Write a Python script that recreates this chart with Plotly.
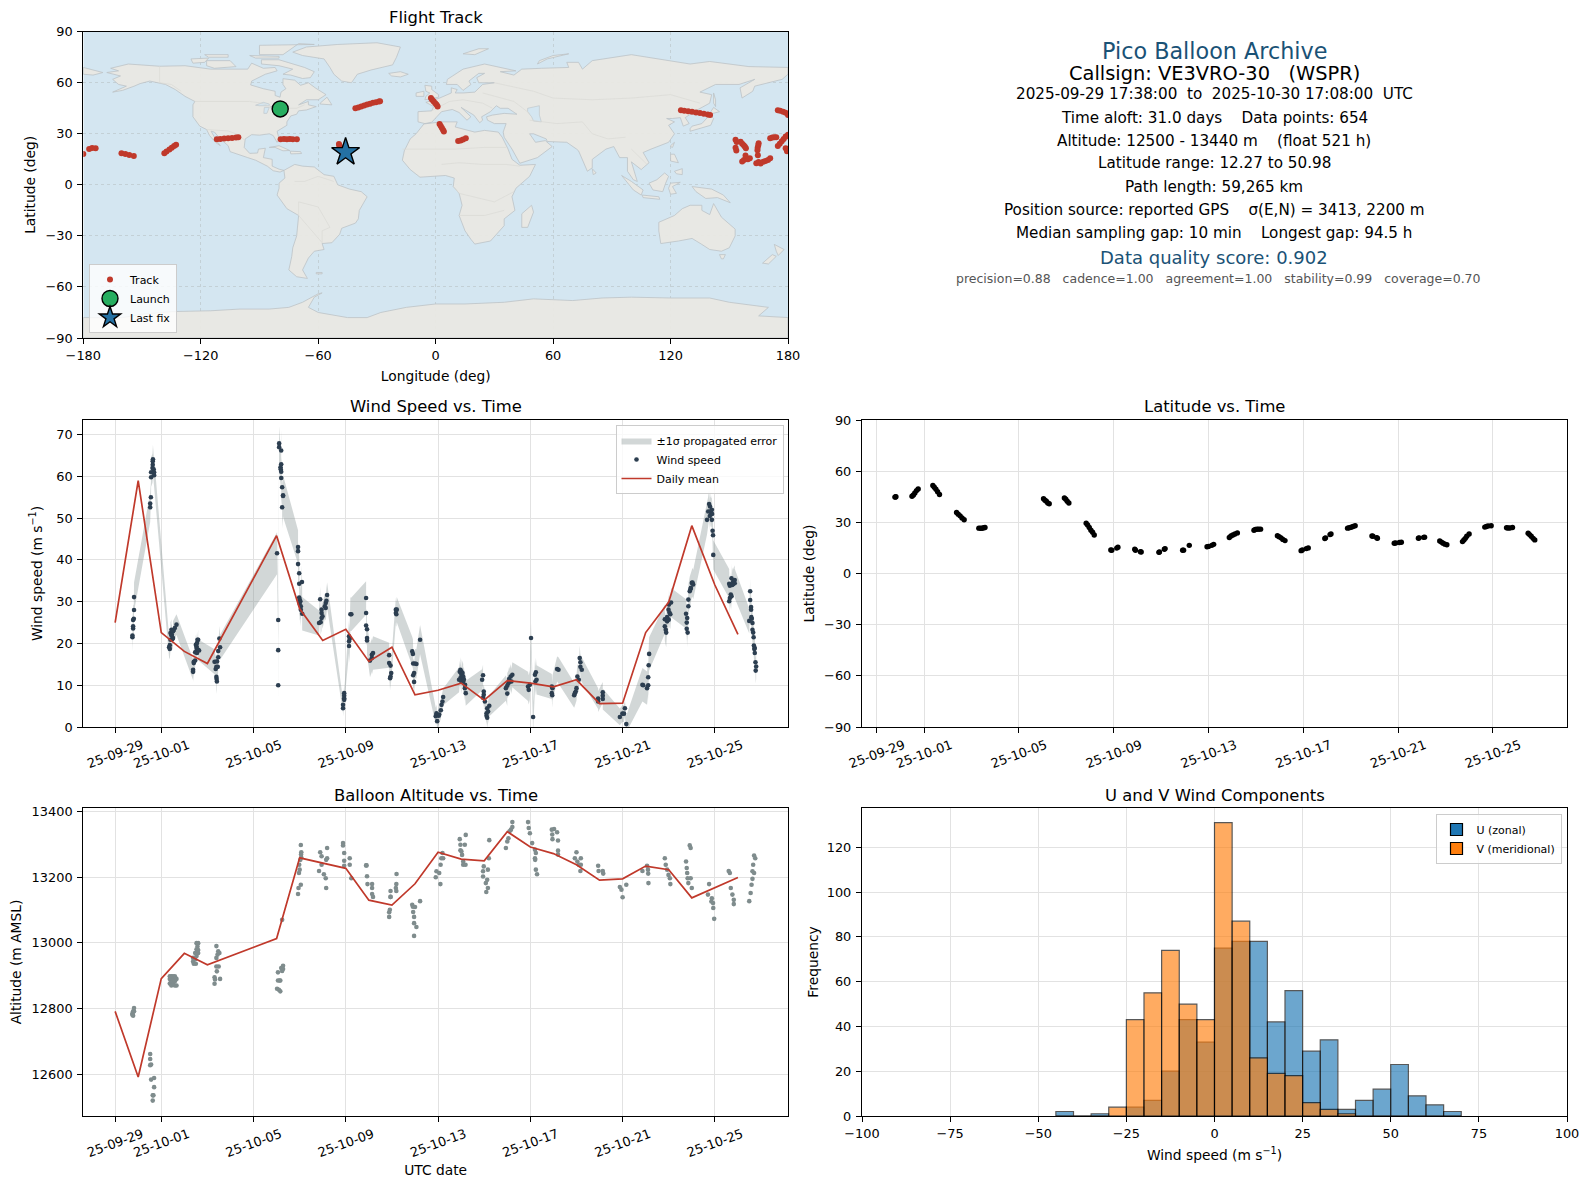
import numpy as np
import pandas as pd
import plotly.graph_objects as go

# ---- flight track (lon / lat in deg)
track_lon = [-41, -39.5, -38, -36.5, -35, -33.5, -32, -30.5, -29, -28.4,
             -2.4, -1.8, -1, -0.2, 0.5, 1,
             2, 2.6, 3.2, 3.8, 4.2,
             11.5, 12.8, 14, 15.4,
             125.3, 127, 129, 131, 133, 135, 137, 139, 140.2,
             174.8, 176, 177.5, 178.8, 180,
             153.2, 153.8, 153.2, 153.6, 155.8, 156.6, 157.4, 158, 158.5,
             165, 164.8, 164.5, 164.4, 156.6, 157.5, 158.8, 159.5, 160.5, 158.3,
             163.8, 165, 166, 167.4, 168.5, 169.8, 170.9, 164.6,
             170.9, 172, 173, 174,
             174.8, 175.8, 176.8, 177.8, 178.8, 180, 178.8, 179.5,
             -180, -177, -175.5, -173.7,
             -160.5, -158.5, -156.5, -154.2,
             -138.6, -137.5, -136, -134.8, -133.6, -132.6,
             -111.8, -110, -108, -106, -104, -102, -100.8,
             -79.2, -77.5, -76, -74.5, -73, -70.9,
             -49.4, -49.2, -49]
track_lat = [45, 45.5, 46, 46.6, 47.2, 47.7, 48.2, 48.6, 49, 49.1,
             51, 50, 49, 48, 47, 46,
             35.8, 34.6, 33.4, 32.2, 31.3,
             25.8, 26, 26.6, 27.4,
             43.8, 43.5, 43.2, 42.9, 42.5, 42.2, 41.8, 41.3, 41,
             43.8, 43.5, 43, 42.3, 41,
             26.5, 25.2, 21.8, 20.2, 25.4, 24.2, 23.2, 22.4, 21.5,
             24.5, 23.2, 21.8, 20.4, 13.7, 14.6, 15.4, 15, 15.6, 17.2,
             12.7, 13.4, 12.6, 13.6, 14, 14.6, 15.6, 17.4,
             27.4, 27.8, 28, 28,
             22.9, 24.2, 25.6, 27, 28.4, 29.4, 21.5, 19.8,
             18.2, 21, 21.6, 21.5,
             18.6, 18.2, 17.6, 17,
             18.6, 19.6, 20.8, 21.8, 22.8, 23.5,
             26.8, 27, 27.2, 27.4, 27.6, 27.8, 28,
             26.8, 26.9, 26.8, 26.9, 26.8, 26.8,
             24, 23.2, 22.4]
launch_lon, launch_lat = [-79.4], [44.6]
last_lon, last_lat = [-46], [19.2]

# ---- land outlines, each one [lon...], [lat...]
land_shapes = [
    # north america
    ([-168, -162, -166, -157, -141, -128, -115, -108, -96, -94, -88, -82, -81, -87, -94, -94.5, -88, -82, -82, -79.5, -79, -76.5, -78, -78, -72, -69, -65, -61.5, -56, -60, -66, -70, -65, -65, -61, -66, -70, -71, -74, -76, -76, -81, -80, -81, -83, -85, -90, -94, -97.3, -97.8, -95, -91, -90.5, -87, -88, -83.5, -83.5, -80, -77.5, -79.5, -83, -86, -92, -96, -105, -106, -110, -113, -114.7, -112, -110, -112.5, -115.5, -117, -120.5, -124, -124, -123, -128, -133, -138, -146, -151, -154, -160, -165, -158, -162, -165, -161, -168],
     [66, 67, 68.5, 71, 69.7, 70, 68, 68, 68, 71.5, 68.5, 69, 67, 65, 61, 58.7, 56.5, 55, 52.5, 51.5, 54.5, 56.5, 59, 62.4, 61.5, 58.5, 60, 57, 53, 50, 50, 47, 49, 47, 46, 44, 43.5, 41.5, 40.5, 37, 35, 31.5, 27, 25, 29, 30, 29.2, 29.5, 27, 22, 18.5, 18.7, 21, 21.5, 16, 15, 11, 9.2, 8.5, 7.5, 8.3, 11, 14.5, 16, 19.5, 23, 27, 31, 31.5, 26, 23, 25, 29, 32.5, 34.5, 40, 47, 49, 52, 56, 59, 61, 59.5, 58, 55.5, 54.5, 58, 59, 62, 64, 66]),
    # greenland
    ([-73, -66, -50, -30, -18, -20, -22, -33, -40, -43, -48, -52, -54, -57, -68, -73],
     [78, 81, 82.5, 83.5, 81, 75, 70.5, 67.5, 65, 60, 61, 65, 69, 74, 76, 78]),
    # arctic islands
    ([-80, -72, -67, -62, -64, -68, -74, -78, -73, -80, -89, -89, -80],
     [73.5, 71, 69, 66.5, 63, 62.5, 64.5, 65, 68, 70, 71, 73.5, 73.5]),
    ([-117, -105, -102, -113, -117, -117], [73, 73, 69.5, 68.5, 70, 73]),
    ([-125, -116, -118, -124, -125], [74, 74.5, 72, 71.5, 74]),
    ([-90, -78, -70, -62, -90, -90], [76.5, 76.5, 83, 82.5, 82, 76.5]),
    ([-95, -80, -80, -92, -95], [76, 75.5, 74.5, 74.5, 76]),
    ([-118, -106, -106, -116, -118], [76.5, 76.5, 75, 75, 76.5]),
    ([-59, -55.5, -53, -59, -59], [48, 51.5, 47, 47.5, 48]),
    # caribbean
    ([-85, -80, -74.5, -78, -82, -85], [22, 23, 20.2, 20, 22, 22]),
    ([-74.3, -69, -68.5, -74, -74.3], [19.8, 19.5, 18.4, 18.2, 19.8]),
    # south america
    ([-77.5, -72, -68, -62, -57, -52, -50, -44, -38, -35, -39, -39.5, -41, -48, -49, -53, -58, -57, -62, -65, -68, -65.5, -71, -75, -73.5, -73, -71, -70, -76, -81, -80, -80, -77, -77.5],
     [8.5, 12, 11, 10.5, 6, 5, 0, -2.5, -4, -7, -15, -20, -22.5, -25.5, -29, -34, -34.5, -38, -39, -43, -50, -55, -54, -50, -42, -37, -30, -18, -14, -6, -2, 1, 4, 8.5]),
    ([-61, -58, -58, -61, -61], [-51.5, -51.5, -52.3, -52.3, -51.5]),
    # africa
    ([-6, 3, 11, 10, 15, 20, 25, 32, 34, 37, 39, 43, 51, 48, 41, 39, 40.5, 35, 35, 32.5, 28, 20, 18, 15, 12, 13.5, 12, 9, 9.5, 5, -4, -8, -13, -17, -16, -13, -10, -6],
     [35.8, 37, 37, 34, 32.5, 31, 32, 31, 28, 21, 15, 11.5, 12, 5, -2, -7, -15, -20, -24, -27, -33, -34.8, -32, -27, -18, -12, -5, -1, 4, 5.5, 5, 4.5, 9, 14.5, 20, 27, 30, 35.8]),
    ([49, 50, 47, 44, 44, 49], [-12, -16, -25, -25, -17, -12]),
    # eurasia
    ([-9, -9, -2, -1, -5, 2, 8, 8, 11, 10, 14, 20, 24, 30, 22, 21, 25, 22, 17, 18, 14, 11, 5.5, 6, 14, 25, 41, 33, 40, 44, 54, 68, 67, 73, 75, 80, 100, 113, 130, 140, 160, 180, 180, 177, 170, 163, 162, 156.5, 155.5, 163, 155, 143, 135, 141, 140, 132, 127.5, 129.5, 126.5, 125, 121, 118, 122, 119, 122, 119, 110, 106, 109, 105, 100, 103, 101, 98, 98, 94, 91, 87, 80, 80, 77.5, 73, 72, 67, 57, 56.5, 50, 48, 51, 56, 59.5, 52, 43, 39, 35, 34.5, 36, 30, 26.5, 26, 29, 35, 41.5, 37, 33, 31, 28, 23.5, 24, 22.5, 19.5, 13, 18, 16, 12, 8.5, 3, 0, -2, -5.5, -9],
     [37, 43, 43.5, 46, 48.5, 51, 54, 57, 56, 54, 54, 54.5, 59, 60, 60, 63, 65.5, 65.5, 61, 59, 55.5, 59, 59, 62, 68, 71, 67, 66.5, 64.5, 68, 68.5, 69, 72, 72, 68, 73, 76.5, 74, 71, 72.5, 69.5, 69, 65, 62, 60, 58, 55, 51, 57, 62, 59, 59, 54.5, 53, 48, 43, 39.5, 36, 34.5, 39.5, 39, 39, 37, 35, 30, 25, 21, 19, 13, 9, 13.5, 2, 3, 8, 16, 16, 22.5, 21, 15, 10, 8, 20, 21, 25, 25.5, 27, 30, 30, 25, 26, 22.5, 16, 12.7, 21, 28, 31, 36, 36, 38, 40, 41, 42, 41.5, 45, 45, 46.5, 43, 40, 38, 36.5, 41, 45.5, 40, 38, 42.5, 44.3, 43, 39, 36.8, 36, 37]),
    ([-180, -173, -170, -175, -180, -180], [69, 67, 66, 64.5, 65, 69]),
    # east and south east asia islands
    ([142, 143, 143, 142, 142], [54, 50, 46, 48, 54]),
    ([130, 131, 136, 140, 142, 140.5, 136, 130, 130], [33, 34.5, 36, 41, 39, 35, 33.5, 31.5, 33]),
    ([140, 142, 145, 141, 140], [42, 45.5, 43, 41.8, 42]),
    ([120, 122, 121, 120, 120], [23, 25, 22, 22.5, 23]),
    ([120, 122, 124, 120, 120], [18, 18, 13, 14, 18]),
    ([122, 126, 126, 123, 122], [8, 9.5, 6, 6.5, 8]),
    ([80, 82, 80.5, 80], [9.5, 7, 6, 9.5]),
    ([95, 100, 106, 105, 101, 95], [5.5, 2, -3, -6, -3, 5.5]),
    ([105.5, 114, 114.5, 106, 105.5], [-6, -7, -8.5, -7.5, -6]),
    ([109, 113, 117, 119, 117.5, 116, 111, 109], [1, 3, 7, 5, 1, -4, -3, 1]),
    ([120, 125, 121, 123, 120, 119, 120], [1, 1.5, -1, -5, -5.5, -2, 1]),
    ([131, 141, 147, 150.5, 144, 138, 133, 131], [-1, -2.5, -6, -10.5, -7.5, -8, -4, -1]),
    # australia and new zealand
    ([114, 122, 126, 130, 136, 136, 140, 142, 146, 153, 153, 150, 146, 140, 136, 131, 124, 115, 114, 114],
     [-22, -18, -14, -12, -12, -15, -17.5, -11, -19, -26, -30, -37, -39, -38, -35, -31.5, -33, -34.5, -27, -22]),
    ([145, 148, 147, 146, 145], [-41, -41, -43.5, -43.5, -41]),
    ([173, 178, 175, 174, 173], [-35, -38, -41.5, -39, -35]),
    ([172, 174, 170, 167, 172], [-41, -42, -46.5, -46, -41]),
    # north atlantic and arctic
    ([-24, -18, -14, -18, -22.5, -24], [65.5, 66.5, 65, 63.4, 64, 65.5]),
    ([-5.5, 1.5, 1.5, -2, -2, -5.5, -5, -3, -5, -5.5], [50, 51.5, 53, 56, 58, 58.5, 55, 54, 52, 50]),
    ([-10, -6, -6, -10, -10], [52, 52, 55, 54, 52]),
    ([14, 22, 27, 20, 14], [77, 80, 80, 76.5, 77]),
    ([52, 57, 68, 60, 53, 52], [71, 74, 77, 76, 73, 71]),
    # antarctica
    ([-180, -180, -160, -150, -135, -115, -100, -85, -75, -68, -60, -58, -62, -65, -60, -45, -35, -28, -15, 0, 15, 35, 50, 70, 85, 100, 120, 140, 150, 165, 170, 165, 180, 180, -180],
     [-90, -78, -78, -76, -74.5, -74, -73, -73, -72, -69, -64, -63.5, -66, -72, -75, -78, -78, -75, -72, -70, -70, -69, -67, -68, -66.5, -66, -66.5, -66.5, -69, -71, -72, -77, -78, -90, -90]),
]
lake_shapes = [
    ([-92, -88, -85, -85, -90, -92], [46.8, 48.5, 47.5, 46.5, 46.5, 46.8]),
    ([-87.8, -86.2, -85, -87.5, -87.8], [42, 42, 45.5, 45.5, 42]),
    ([-84.5, -81, -80, -82, -83.5, -84.5], [46, 46, 44.5, 43, 44, 46]),
    ([-83, -79, -79, -83, -83], [41.7, 42.8, 42.4, 41.4, 41.7]),
    ([-79.5, -76.5, -76.5, -79.5, -79.5], [43.7, 44, 43.4, 43.2, 43.7]),
    ([47, 53, 53, 54, 50, 49, 47, 47], [45, 46.5, 41, 37, 37.5, 40, 43, 45]),
]
border_lines = [
    ([-123, -95, -89, -84, -82.5, -79, -75, -71, -67], [49, 49, 48, 46, 42, 43, 45, 45, 47]),
    ([-141, -141, -135, -130], [69.7, 60, 59, 55]),
    ([-117, -108, -106, -101, -97.3], [32.5, 31.5, 31.7, 29.5, 26]),
    ([-70, -70, -60, -54, -58, -58, -70], [-18, -10, -13, -25, -27, -34, -18]),
    ([-72, -67, -60, -52], [2, 2, 5, 2]),
    ([-17, 10, 25, 36], [21, 21, 22, 22]),
    ([3, 12, 24, 36, 43], [12, 13, 12, 12, 11]),
    ([9, 12, 30, 40], [-1, -5, -10, -4]),
    ([12, 25, 35], [-18, -18, -15]),
    ([-2, 7, 14, 24, 29], [43.5, 49, 50, 48, 45]),
    ([24, 30, 40, 48], [54, 52, 49, 42]),
    ([30, 50, 60, 80, 100, 120, 135], [60, 55, 51, 50, 51, 53, 48]),
    ([48, 62, 75, 80, 88, 97], [38, 36, 37, 30, 27, 28]),
    ([100, 105, 108], [21, 15, 12]),
]

# ---- wind speed fixes: days since 2025-09-29, m/s, 1 sigma
wind_days = [0.75, 0.75, 0.78, 0.78, 0.78, 0.81, 0.82, 0.82,
             1.52, 1.52, 1.55, 1.56, 1.56, 1.62, 1.63, 1.63, 1.64, 1.67, 1.69, 1.69,
             2.34, 2.37, 2.37, 2.40, 2.40, 2.44, 2.44, 2.46, 2.48, 2.51, 2.51, 2.54, 2.59, 2.66,
             3.38, 3.38, 3.41, 3.41, 3.47, 3.47, 3.50, 3.52, 3.53, 3.53, 3.55, 3.55, 3.57, 3.60, 3.60, 3.64,
             4.31, 4.36, 4.39, 4.39, 4.40, 4.41, 4.42, 4.45, 4.47, 4.47, 4.52, 4.55,
             7.02, 7.07, 7.07, 7.07, 7.11, 7.11, 7.20, 7.20, 7.17, 7.18, 7.20, 7.20, 7.24, 7.24, 7.28, 7.28,
             7.93, 7.93, 7.93, 7.98, 7.98, 7.98, 8.0, 8.0, 8.03, 8.05, 8.05, 8.10, 8.11,
             8.84, 8.89, 8.91, 8.95, 8.95, 8.95, 8.99, 9.09, 9.13, 9.13, 9.16, 9.19,
             9.88, 9.88, 9.93, 9.93, 9.93, 9.93,
             10.14, 10.14, 10.14, 10.17, 10.2, 10.24,
             10.88, 10.88, 10.88, 10.92, 10.92, 10.92, 11.05, 11.13, 11.13, 11.18,
             11.88, 11.88, 11.94, 11.97, 11.94, 11.92, 12.17, 12.17, 12.19, 12.21,
             12.88, 12.91, 12.92, 12.92, 12.96, 12.96, 13.0, 13.06, 13.22,
             13.90, 13.93, 13.96, 14.03, 14.05, 14.12, 14.15, 14.19, 14.22,
             14.91, 14.94, 14.97, 14.97, 15.01, 15.01, 15.01, 15.06, 15.09, 15.09, 15.12, 15.16, 15.17, 15.2,
             15.91, 15.95, 15.98, 15.98, 15.95, 16.03, 16.1, 16.1, 16.13, 16.13, 16.17, 16.22,
             16.94, 17.0, 17.0, 17.05, 17.08, 17.11, 17.15, 17.18, 17.22,
             17.90, 17.93, 17.98, 18.03, 18.12, 18.2, 18.22, 18.24, 18.27,
             18.93, 18.93, 18.95, 18.96, 19.16, 19.22,
             19.90, 19.93, 19.97, 20.0, 20.04, 20.1, 20.14, 20.17, 20.17, 20.23,
             20.94, 20.94, 21.14, 21.14, 21.14,
             21.88, 21.99, 22.06, 22.1, 22.16,
             22.86, 22.89, 23.06, 23.11, 23.11, 23.13, 23.15,
             23.83, 23.83, 23.87, 23.89, 23.93, 23.93, 23.99, 24.0, 24.01, 24.03, 24.07, 24.1,
             24.75, 24.78, 24.78, 24.8, 24.82, 24.85, 24.85, 24.91, 24.94, 24.96, 25.0, 25.03, 25.06,
             25.66, 25.71, 25.75, 25.78, 25.79, 25.81, 25.85, 25.87, 25.87, 25.88, 25.9, 25.92, 25.93,
             26.62, 26.62, 26.65, 26.65, 26.69, 26.72, 26.72, 26.75, 26.79, 26.79, 26.86, 26.86,
             27.49, 27.53, 27.53, 27.57, 27.57, 27.58, 27.6, 27.63, 27.63, 27.66, 27.68, 27.69, 27.71, 27.73, 27.73, 27.76, 27.77, 27.79]
wind_speed = [21.5, 21.9, 23.6, 24.1, 25.6, 25.9, 28, 31.1,
              52.6, 53.5, 55, 59.8, 61, 62, 62.8, 63.6, 64.1, 61.7, 60.3, 61,
              19.1, 18.7, 19.6, 20.9, 22.5, 23.3, 21.9, 22.1, 21, 21.3, 22.9, 23.2, 23.7, 24.5,
              13.7, 13.2, 15.3, 15.6, 15.9, 17.9, 19.7, 18.1, 18.9, 19.3, 20.1, 17.7, 20.9, 20.9, 18.5, 18.3,
              15.6, 13.9, 14.4, 12, 11.5, 10.9, 15.7, 14.4, 16.7, 18.2, 21.2, 19.1,
              41.6, 25.6, 18.4, 10, 67.9, 67, 66.2, 62.9, 62.2, 61.7, 61.1, 59.6, 57.4, 52.6, 55.5, 55.3,
              43.1, 42.1, 39, 36.8, 34.3, 31, 30.5, 29.5, 30.1, 28.1, 28.9, 34.7, 27.1,
              24.9, 30.6, 25.1, 26.1, 27.3, 28.1, 26.5, 28.9, 28.5, 29.7, 30.2, 31.6,
              5.3, 4.5, 8.1, 7.5, 6.9, 6.5,
              21.7, 20.5, 19.4, 21.1, 27, 27,
              30.9, 27.3, 24.3, 23.4, 21.3, 20.7, 15.9, 17.3, 16.5, 17.7,
              17.2, 15.3, 14.7, 12.9, 12.1, 11.7, 28.1, 27.3, 27, 28.1,
              18.1, 17.5, 15.2, 12.4, 12.9, 10.8, 15.2, 15.1, 20.9,
              2.6, 3.3, 1.4, 2.7, 3, 4, 5.3, 6.1, 7.2,
              11.3, 13.2, 13.7, 11.7, 13.3, 12.5, 10.9, 12.9, 12.1, 10.9, 11.4, 9.3, 10.1, 8.1,
              11.3, 12.4, 8.5, 7.7, 7, 6.1, 3.3, 2.7, 4.5, 2.2, 3.7, 5.1,
              9.3, 8, 9.9, 10.5, 11.5, 10.9, 12.1, 10.9, 12.5,
              9.7, 8.9, 10.1, 21.3, 2.4, 12.5, 10.9, 13.1, 11.3,
              9.7, 8.1, 7.6, 9.3, 13.9, 13.7,
              7.6, 8.1, 8.5, 9.3, 12.1, 11.3, 16.5, 15.5, 14.4, 13.7,
              6.8, 6.1, 8.3, 7.5, 6.7,
              2.4, 3.2, 3.2, 4.5, 0.7,
              10.1, 10, 9.3, 11.9, 10, 14.8, 17.5,
              25.8, 24.1, 23.3, 22.6, 26.3, 25.3, 28.1, 25.7, 29.3, 27.4, 27, 29.8,
              27.1, 25, 23.5, 26.1, 22.6, 28.9, 30.5, 32.5, 33, 33.3, 34.5, 34.6, 34.1,
              49.6, 51.6, 53.4, 50.5, 52.8, 51.6, 51.2, 52, 49.6, 51, 47, 45.9, 41.2,
              34.3, 30.1, 30.9, 33.8, 31.7, 35.6, 31.3, 34, 34.8, 34.2, 35.2, 34.4,
              25.4, 32.5, 30.4, 28.7, 28.1, 26.3, 25.9, 24.9, 23.3, 22.6, 21.5, 19.5, 18.7, 17.7, 18.9, 15.5, 13.5, 14.5]
wind_sigma = [3.5] * 8 + [3.5] * 12 + [2.5] * 14 + [2.5] * 16 + [3] * 12 + [5] * 16 + \
             [4] * 13 + [3] * 12 + [2] * 6 + [4] * 6 + [4] * 10 + [3] * 10 + [3.5] * 9 + \
             [2] * 9 + [3] * 14 + [2.5] * 12 + [3] * 9 + [3.5] * 9 + [3] * 6 + [3] * 10 + \
             [2.5] * 5 + [2] * 5 + [4] * 7 + [3.5] * 12 + [3.5] * 13 + [3.5] * 13 + [3.5] * 12 + [3] * 18

mean_days = [0, 1, 2, 3, 4, 7, 8, 9, 10, 11, 12, 13, 14, 15, 16, 17, 18, 19, 20, 21, 22, 23, 24, 25, 26, 27]
wind_mean = [25, 59, 22.6, 18.1, 15.2, 45.8, 28.3, 20.7, 23.4, 15.7, 19.1, 7.7, 8.8, 10.5, 6.4, 11.1,
             10.5, 9.6, 11.3, 5.6, 5.7, 22.6, 29.9, 48.2, 34, 22.2]
alt_mean = [12791, 12591, 12891, 12968, 12933, 13013, 13259, 13243, 13227, 13130, 13115, 13180, 13276,
            13255, 13250, 13339, 13292, 13272, 13238, 13191, 13195, 13234, 13223, 13137, 13167, 13199]

# ---- altitude fixes
alt_days = [0.75, 0.75, 0.78, 0.78, 0.82, 0.82,
            1.52, 1.52, 1.52, 1.56, 1.56, 1.63, 1.63, 1.66, 1.69, 1.69,
            2.37, 2.37, 2.37, 2.44, 2.44, 2.44, 2.44, 2.51, 2.51, 2.51, 2.51, 2.59, 2.59, 2.59, 2.66, 2.66,
            3.38, 3.38, 3.41, 3.47, 3.47, 3.50, 3.53, 3.53, 3.53, 3.57, 3.60, 3.60, 3.60,
            4.31, 4.31, 4.33, 4.39, 4.39, 4.39, 4.41, 4.44, 4.47, 4.49, 4.52, 4.55,
            7.02, 7.06, 7.06, 7.1, 7.13, 7.16, 7.16, 7.2, 7.24, 7.24, 7.28, 7.28,
            7.93, 7.95, 7.97, 7.98, 8.0, 8.03, 8.05, 8.05, 8.06, 8.07, 8.07,
            8.84, 8.89, 8.95, 8.95, 9.05, 9.13, 9.15, 9.15, 9.19, 9.19,
            9.88, 9.88, 9.93, 9.93, 9.93, 10.17, 10.17, 10.24,
            10.88, 10.9, 10.92, 10.94, 11.14, 11.14, 11.14, 11.18,
            11.88, 11.88, 11.91, 11.94, 11.94, 11.94, 12.17, 12.19, 12.19, 12.2,
            12.88, 12.91, 12.92, 12.96, 12.96, 12.96, 13.0, 13.06, 13.22,
            13.9, 13.93, 14.05, 14.1, 14.11, 14.14, 14.19, 14.22,
            14.94, 14.97, 14.97, 15.01, 15.04, 15.09, 15.09, 15.16, 15.19, 15.2,
            15.95, 15.95, 15.98, 16.07, 16.09, 16.13, 16.16, 16.16, 16.2, 16.22,
            16.94, 17.0, 17.05, 17.1, 17.16, 17.22, 17.22,
            17.9, 17.93, 17.98, 18.08, 18.2, 18.2, 18.21, 18.24, 18.24, 18.29,
            18.93, 18.95, 18.96, 19.03, 19.16, 19.2, 19.2, 19.2,
            19.93, 20.0, 20.04, 20.1, 20.17, 20.19, 20.19,
            20.94, 20.96, 21.14, 21.16,
            21.88, 21.95, 22.0, 22.16,
            22.86, 23.06, 23.1, 23.11, 23.12,
            23.83, 23.87, 23.93, 23.99, 24.05, 24.07,
            24.75, 24.78, 24.8, 24.82, 24.85, 24.91, 24.95, 24.95, 25.0,
            25.7, 25.75, 25.85, 25.87, 25.92, 25.93, 25.97,
            26.6, 26.65, 26.69, 26.76, 26.82, 26.82,
            27.49, 27.55, 27.59, 27.63, 27.63, 27.66, 27.7, 27.7, 27.75]
alt_vals = [12781, 12784, 12778, 12791, 12791, 12801,
            12661, 12646, 12627, 12629, 12583, 12535, 12519, 12535, 12588, 12560,
            12876, 12890, 12898, 12870, 12883, 12890, 12898, 12876, 12883, 12890, 12898, 12870, 12883, 12898, 12870, 12890,
            12943, 12954, 12936, 12969, 12950, 12936, 12999, 12960, 12980, 12989, 12999, 12969, 12978,
            12875, 12895, 12888, 12990, 12954, 12928, 12913, 12964, 12974, 12928, 12969, 12890,
            12860, 12885, 12910, 12857, 12885, 12852, 12885, 12923, 12914, 13070, 12930, 12920,
            13149, 13167, 13213, 13238, 13223, 13253, 13177, 13298, 13269, 13276, 13260,
            13219, 13276, 13264, 13238, 13209, 13197, 13167, 13253, 13258, 13289,
            13304, 13297, 13274, 13250, 13235, 13258, 13238, 13197,
            13236, 13236, 13203, 13179, 13179, 13167, 13149, 13140,
            13079, 13093, 13101, 13140, 13158, 13140, 13167, 13179, 13158, 13210,
            13116, 13110, 13094, 13079, 13060, 13021, 13109, 13048, 13127,
            13200, 13218, 13213, 13179, 13238, 13258, 13274, 13258,
            13316, 13299, 13282, 13279, 13268, 13248, 13238, 13299, 13238, 13329,
            13218, 13202, 13233, 13182, 13155, 13192, 13167, 13223, 13258, 13313,
            13289, 13309, 13319, 13340, 13345, 13368, 13353,
            13368, 13350, 13334, 13304, 13284, 13258, 13253, 13274, 13223, 13209,
            13345, 13330, 13316, 13347, 13337, 13312, 13281, 13269,
            13258, 13276, 13248, 13238, 13219, 13258, 13238,
            13235, 13219, 13219, 13211,
            13170, 13162, 13139, 13177,
            13219, 13235, 13223, 13211, 13182,
            13258, 13238, 13223, 13207, 13197, 13179,
            13248, 13228, 13213, 13197, 13182, 13297, 13197, 13289, 13167,
            13147, 13179, 13126, 13136, 13121, 13106, 13073,
            13219, 13213, 13167, 13147, 13131, 13118,
            13127, 13152, 13177, 13195, 13218, 13238, 13213, 13266, 13258]

# ---- latitude fixes
lat_days = [0.77, 0.79, 0.81,
            1.49, 1.55, 1.61, 1.68, 1.75,
            2.37, 2.43, 2.5, 2.57, 2.65,
            3.37, 3.44, 3.52, 3.6, 3.69,
            4.31, 4.38, 4.45, 4.52, 4.57,
            7.04, 7.1, 7.16, 7.22, 7.28,
            7.92, 7.98, 8.04, 8.11,
            8.84, 8.9, 8.97, 9.04, 9.11, 9.18,
            9.88, 9.92, 10.13, 10.18,
            10.89, 10.92, 11.13, 11.16,
            11.91, 11.93, 12.14, 12.17,
            12.91, 12.95, 13.19,
            13.94, 14.0, 14.14, 14.22,
            14.88, 14.95, 15.03, 15.12, 15.22,
            15.92, 15.98, 16.05, 16.12, 16.2,
            16.91, 16.98, 17.06, 17.14, 17.23,
            17.91, 17.96, 18.13, 18.21,
            18.91, 18.94, 19.13, 19.17,
            19.87, 19.94, 20.02, 20.1, 20.19,
            20.9, 20.94, 21.1, 21.13,
            21.84, 21.9, 22.06, 22.14,
            22.86, 22.89, 23.08, 23.12,
            23.76, 23.83, 23.9, 23.98, 24.06,
            24.72, 24.78, 24.84, 24.9, 25.0,
            25.66, 25.73, 25.8, 25.93,
            26.58, 26.64, 26.72, 26.83,
            27.49, 27.55, 27.62, 27.7, 27.77]
lat_vals = [44.8, 44.9, 45,
            45.3, 46, 47.2, 48.6, 49.6,
            51.6, 50.6, 49.4, 48, 46.3,
            35.8, 34.8, 33.8, 32.6, 31.5,
            26.6, 26.5, 26.5, 26.8, 27,
            43.9, 43, 42.4, 41.4, 40.9,
            44.3, 43.5, 42.4, 41.3,
            29.5, 28.4, 27, 25.4, 24.2, 22.6,
            13.8, 13.6, 14.9, 15.4,
            14.2, 13.6, 12.8, 12.6,
            12.4, 12.6, 14.2, 14.6,
            13.6, 13.7, 16.5,
            15.7, 15.9, 16.5, 17.1,
            21.1, 22, 22.6, 23.2, 23.8,
            25.4, 25.8, 26, 26, 26,
            22.2, 21.6, 20.9, 20, 19.3,
            13.4, 13.8, 14.6, 15,
            20.5, 20.9, 22.8, 23.2,
            26.6, 26.8, 27.1, 27.6, 28,
            22, 21.8, 21, 20.7,
            17.7, 17.9, 18.2, 18.3,
            20.7, 20.9, 21.2, 21.3,
            19.1, 18.4, 17.8, 17.2, 16.9,
            18.7, 19.6, 20.6, 21.8, 23.2,
            27.2, 27.6, 27.9, 28,
            26.8, 26.7, 26.7, 27,
            23.6, 22.8, 21.8, 20.6, 19.7]

# ---- histogram counts, 5 m/s bins
bin_left = [-45, -40, -35, -30, -25, -20, -15, -10, -5, 0, 5, 10, 15, 20, 25, 30, 35, 40, 45, 50, 55, 60, 65]
u_counts = [2, 0, 1, 0, 4, 7, 20, 43, 33, 75, 78, 78, 42, 56, 29, 34, 3, 7, 12, 23, 9, 5, 2]
v_counts = [0, 0, 0, 4, 43, 55, 74, 50, 43, 131, 87, 26, 19, 18, 6, 3, 1, 0, 0, 0, 0, 0, 0]

date_ticks = ['2025-09-29', '2025-10-01', '2025-10-05', '2025-10-09', '2025-10-13',
              '2025-10-17', '2025-10-21', '2025-10-25']

W, H = 1574, 1170
RED = '#c0392b'
NAVY = '#2c3e50'
GREY = '#7f8c8d'
BLUE = '#1a5276'
GRID = '#e2e2e2'
FONT = 'DejaVu Sans'


def fx(px):
    return (px - 8) / W


def fy(py):
    return 1 - (py - 8) / H


def to_dates(days):
    return pd.Timestamp('2025-09-29') + pd.to_timedelta(np.array(days, dtype=float), unit='D')


def join_shapes(shapes):
    xs, ys = [], []
    for lon, lat in shapes:
        xs += list(lon) + [None]
        ys += list(lat) + [None]
    return xs, ys


order = np.argsort(wind_days, kind='stable')
wd = to_dates(wind_days)[order]
ws = np.array(wind_speed)[order]
sg = np.array(wind_sigma)[order]

fig = go.Figure()

# map
land_x, land_y = join_shapes(land_shapes)
lake_x, lake_y = join_shapes(lake_shapes)
bord_x, bord_y = join_shapes(border_lines)
fig.add_trace(go.Scatter(x=land_x, y=land_y, mode='lines', fill='toself', fillcolor='rgba(233,232,227,0.95)',
                         line=dict(color='#bcc3c6', width=0.8), hoverinfo='skip', showlegend=False))
fig.add_trace(go.Scatter(x=lake_x, y=lake_y, mode='lines', fill='toself', fillcolor='#d4e6f1',
                         line=dict(color='#bcc3c6', width=0.6), hoverinfo='skip', showlegend=False))
fig.add_trace(go.Scatter(x=bord_x, y=bord_y, mode='lines', line=dict(color='#dadad5', width=0.7),
                         hoverinfo='skip', showlegend=False))
fig.add_trace(go.Scatter(x=track_lon, y=track_lat, mode='markers', name='Track',
                         marker=dict(color=RED, size=6), legend='legend'))
fig.add_trace(go.Scatter(x=launch_lon, y=launch_lat, mode='markers', name='Launch',
                         marker=dict(color='#27ae60', size=16, line=dict(color='black', width=1.4)), legend='legend'))
fig.add_trace(go.Scatter(x=last_lon, y=last_lat, mode='markers', name='Last fix',
                         marker=dict(color='#2471a3', size=21, symbol='star', line=dict(color='black', width=1.4)),
                         legend='legend'))

# wind speed
fig.add_trace(go.Scatter(x=list(wd) + list(wd[::-1]), y=list(ws + sg) + list((ws - sg)[::-1]),
                         mode='lines', fill='toself', fillcolor='rgba(127,140,141,0.35)', line=dict(width=0),
                         name='±1σ propagated error', xaxis='x2', yaxis='y2', legend='legend2', hoverinfo='skip'))
fig.add_trace(go.Scatter(x=wd, y=ws, mode='markers', name='Wind speed', marker=dict(color=NAVY, size=4.6),
                         xaxis='x2', yaxis='y2', legend='legend2'))
fig.add_trace(go.Scatter(x=to_dates(mean_days), y=wind_mean, mode='lines', name='Daily mean',
                         line=dict(color=RED, width=1.7), xaxis='x2', yaxis='y2', legend='legend2'))

# latitude
fig.add_trace(go.Scatter(x=to_dates(lat_days), y=lat_vals, mode='markers', marker=dict(color='black', size=5.4),
                         xaxis='x3', yaxis='y3', showlegend=False))

# altitude
fig.add_trace(go.Scatter(x=to_dates(alt_days), y=alt_vals, mode='markers', marker=dict(color=GREY, size=4.6),
                         xaxis='x4', yaxis='y4', showlegend=False))
fig.add_trace(go.Scatter(x=to_dates(mean_days), y=alt_mean, mode='lines', line=dict(color=RED, width=1.7),
                         xaxis='x4', yaxis='y4', showlegend=False))

# histogram
centers = [b + 2.5 for b in bin_left]
fig.add_trace(go.Bar(x=centers, y=u_counts, width=5, name='U (zonal)', xaxis='x5', yaxis='y5', legend='legend3',
                     marker=dict(color='#1f77b4', opacity=0.65, line=dict(color='black', width=1.2))))
fig.add_trace(go.Bar(x=centers, y=v_counts, width=5, name='V (meridional)', xaxis='x5', yaxis='y5', legend='legend3',
                     marker=dict(color='#ff7f0e', opacity=0.65, line=dict(color='black', width=1.2))))

L1, R1, L2, R2 = 83.3, 788, 862, 1567
T1, B1, T2, B2, T3, B3 = 31.7, 338, 420, 727, 808, 1116

base_axis = dict(automargin=False, showline=True, mirror=True, linecolor='black', linewidth=1.2, ticks='outside',
                 ticklen=5, tickwidth=1.1, tickcolor='black', showgrid=True, gridcolor=GRID, gridwidth=1,
                 zeroline=False, tickfont=dict(size=12.9, color='black'), title_font=dict(size=13.8, color='black'))
y_axis = dict(base_axis, ticklabelstandoff=2)
date_axis = dict(base_axis, type='date', tickvals=date_ticks, tickformat='%y-%m-%d', tickangle=-20,
                 ticklabelshift=27, ticklabelstandoff=0)
wide_range = ['2025-09-27 14:53', '2025-10-28 04:05']
map_grid = dict(gridcolor='#c3d0d6', griddash='dot', gridwidth=0.7)

fig.update_layout(
    width=W, height=H, margin=dict(l=0, r=0, t=0, b=0), autosize=False,
    paper_bgcolor='white', plot_bgcolor='white', barmode='overlay', font=dict(family=FONT, color='black'),
    xaxis=dict(base_axis, **map_grid, domain=[fx(L1), fx(R1)], anchor='y', range=[-180, 180],
               tickvals=list(range(-180, 181, 60)), title=dict(text='Longitude (deg)', standoff=9)),
    yaxis=dict(y_axis, **map_grid, domain=[fy(B1), fy(T1)], anchor='x', range=[-90, 90],
               tickvals=list(range(-90, 91, 30)), title=dict(text='Latitude (deg)', standoff=6)),
    xaxis2=dict(date_axis, domain=[fx(L1), fx(R1)], anchor='y2', range=wide_range),
    yaxis2=dict(y_axis, domain=[fy(B2), fy(T2)], anchor='x2', range=[0, 73.5], tickvals=list(range(0, 71, 10)),
                title=dict(text='Wind speed (m s<sup>−1</sup>)', standoff=10)),
    xaxis3=dict(date_axis, domain=[fx(L2), fx(R2)], anchor='y3', range=['2025-09-28 09:07', '2025-10-28 03:07']),
    yaxis3=dict(y_axis, domain=[fy(B2), fy(T2)], anchor='x3', range=[-90, 90],
                tickvals=list(range(-90, 91, 30)), title=dict(text='Latitude (deg)', standoff=6)),
    xaxis4=dict(date_axis, domain=[fx(L1), fx(R1)], anchor='y4', range=wide_range,
                title=dict(text='UTC date', standoff=11)),
    yaxis4=dict(y_axis, domain=[fy(B3), fy(T3)], anchor='x4', range=[12472, 13411],
                tickvals=[12600, 12800, 13000, 13200, 13400], tickformat='d',
                title=dict(text='Altitude (m AMSL)', standoff=7)),
    xaxis5=dict(base_axis, domain=[fx(L2), fx(R2)], anchor='y5', range=[-100, 100],
                tickvals=list(range(-100, 101, 25)), title=dict(text='Wind speed (m s<sup>−1</sup>)', standoff=10)),
    yaxis5=dict(y_axis, domain=[fy(B3), fy(T3)], anchor='x5', range=[0, 137.55],
                tickvals=list(range(0, 121, 20)), title=dict(text='Frequency', standoff=4)),
    legend=dict(x=fx(89), y=fy(333), xanchor='left', yanchor='bottom', bgcolor='rgba(255,255,255,0.8)',
                bordercolor='#cccccc', borderwidth=1, font=dict(size=11)),
    legend2=dict(x=fx(783.5), y=fy(425), xanchor='right', yanchor='top', bgcolor='rgba(255,255,255,0.8)',
                 bordercolor='#cccccc', borderwidth=1, font=dict(size=11)),
    legend3=dict(x=fx(1561.5), y=fy(814), xanchor='right', yanchor='top', bgcolor='rgba(255,255,255,0.8)',
                 bordercolor='#cccccc', borderwidth=1, font=dict(size=11)),
    shapes=[dict(type='rect', xref='x', yref='y', x0=-180, x1=180, y0=-90, y1=90, fillcolor='#d4e6f1',
                 line=dict(width=0), layer='below')],
)

notes = [
    ('Flight Track', (L1 + R1) / 2, 17.5, 16.4, 'black'),
    ('Wind Speed vs. Time', (L1 + R1) / 2, 406, 16.4, 'black'),
    ('Latitude vs. Time', (L2 + R2) / 2, 406, 16.4, 'black'),
    ('Balloon Altitude vs. Time', (L1 + R1) / 2, 795, 16.4, 'black'),
    ('U and V Wind Components', (L2 + R2) / 2, 795, 16.4, 'black'),
    ('Pico Balloon Archive', 1214, 51, 22.3, BLUE),
    ('Callsign: VE3VRO-30\u00a0\u00a0\u00a0(WSPR)', 1214, 73, 19.4, 'black'),
    ('2025-09-29 17:38:00\u00a0\u00a0to\u00a0\u00a02025-10-30 17:08:00\u00a0\u00a0UTC', 1214, 94, 15.2, 'black'),
    ('Time aloft: 31.0 days\u00a0\u00a0\u00a0\u00a0Data points: 654', 1214, 118, 15.2, 'black'),
    ('Altitude: 12500 - 13440 m\u00a0\u00a0\u00a0\u00a0(float 521 h)', 1214, 141, 15.2, 'black'),
    ('Latitude range: 12.27 to 50.98', 1214, 163, 15.2, 'black'),
    ('Path length: 59,265 km', 1214, 187, 15.2, 'black'),
    ('Position source: reported GPS\u00a0\u00a0\u00a0\u00a0σ(E,N) = 3413, 2200 m', 1214, 210, 15.2, 'black'),
    ('Median sampling gap: 10 min\u00a0\u00a0\u00a0\u00a0Longest gap: 94.5 h', 1214, 233, 15.2, 'black'),
    ('Data quality score: 0.902', 1214, 257.5, 18, BLUE),
    ('precision=0.88\u00a0\u00a0\u00a0cadence=1.00\u00a0\u00a0\u00a0agreement=1.00\u00a0\u00a0\u00a0stability=0.99\u00a0\u00a0\u00a0coverage=0.70',
     1218, 278, 12.5, '#555555'),
]
for text, px, py, size, color in notes:
    fig.add_annotation(text=text, x=fx(px), y=fy(py), xref='paper', yref='paper', xanchor='center', yanchor='middle',
                       showarrow=False, font=dict(size=size, color=color))

fig.write_html("out.html")
